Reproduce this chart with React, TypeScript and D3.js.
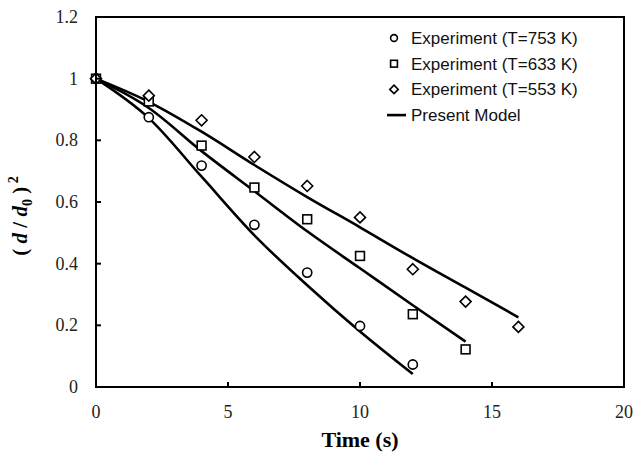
import * as d3 from 'd3'

// time axis (s)
const expTime753 = [0, 2, 4, 6, 8, 10, 12]
const exp753 = [1, 0.875, 0.718, 0.526, 0.371, 0.198, 0.073]
const expTime633 = [0, 2, 4, 6, 8, 10, 12, 14]
const exp633 = [1, 0.926, 0.783, 0.647, 0.544, 0.425, 0.236, 0.122]
const expTime553 = [0, 2, 4, 6, 8, 10, 12, 14, 16]
const exp553 = [1, 0.945, 0.865, 0.746, 0.652, 0.55, 0.382, 0.277, 0.195]

// present model curves
const model753 = [1, 0.872, 0.682, 0.492, 0.33, 0.18, 0.042]
const model633 = [1, 0.905, 0.765, 0.635, 0.505, 0.385, 0.265, 0.147]
const model553 = [1, 0.925, 0.828, 0.72, 0.616, 0.518, 0.418, 0.322, 0.226]

const xTicks = [0, 5, 10, 15, 20]
const yTicks = [0, 0.2, 0.4, 0.6, 0.8, 1, 1.2]
const legendLabels = [
  'Experiment (T=753 K)',
  'Experiment (T=633 K)',
  'Experiment (T=553 K)',
  'Present Model',
]

const W = 640
const H = 473
const margin = { top: 17, right: 16, bottom: 86, left: 96 }

type Pt = [number, number]
const zip = (xs: number[], ys: number[]): Pt[] => xs.map((x, i) => [x, ys[i]])

function Marker({ kind, x, y, s }: { kind: string; x: number; y: number; s: number }) {
  if (kind === 'circle') return <circle cx={x} cy={y} r={s} fill="#fff" stroke="#000" strokeWidth={1.6} />
  if (kind === 'square')
    return <rect x={x - s} y={y - s} width={2 * s} height={2 * s} fill="#fff" stroke="#000" strokeWidth={1.6} />
  const d = s * 1.25
  return (
    <path
      d={`M${x},${y - d}L${x + d},${y}L${x},${y + d}L${x - d},${y}Z`}
      fill="#fff"
      stroke="#000"
      strokeWidth={1.6}
    />
  )
}

export default function App() {
  const x = d3.scaleLinear().domain([0, 20]).range([margin.left, W - margin.right])
  const y = d3.scaleLinear().domain([0, 1.2]).range([H - margin.bottom, margin.top])

  const line = d3
    .line<Pt>()
    .x(d => x(d[0]))
    .y(d => y(d[1]))
    .curve(d3.curveMonotoneX)

  const models = [zip(expTime753, model753), zip(expTime633, model633), zip(expTime553, model553)]
  const exps = [
    { kind: 'circle', pts: zip(expTime753, exp753) },
    { kind: 'square', pts: zip(expTime633, exp633) },
    { kind: 'diamond', pts: zip(expTime553, exp553) },
  ]

  const x0 = x(0)
  const x1 = x(20)
  const y0 = y(0)
  const y1 = y(1.2)
  const serif = '"Liberation Serif", "Times New Roman", serif'
  const sans = '"Liberation Sans", Arial, sans-serif'

  return (
    <svg width={W} height={H} style={{ position: 'absolute', left: 0, top: 0, background: '#fff' }}>
      {/* model lines */}
      {models.map((m, i) => (
        <path key={i} d={line(m) ?? ''} fill="none" stroke="#000" strokeWidth={2.6} />
      ))}

      {/* experiment markers */}
      {exps.map(e =>
        e.pts.map((p, j) => <Marker key={e.kind + j} kind={e.kind} x={x(p[0])} y={y(p[1])} s={e.kind === 'circle' ? 4.6 : 4.4} />)
      )}

      {/* frame */}
      <rect x={x0} y={y1} width={x1 - x0} height={y0 - y1} fill="none" stroke="#000" strokeWidth={2} />

      {/* y ticks */}
      {yTicks.map(t => (
        <g key={t}>
          <line x1={x0} x2={x0 + 5} y1={y(t)} y2={y(t)} stroke="#000" strokeWidth={2} />
          <text x={x0 - 18} y={y(t) + 6} textAnchor="end" fontFamily={serif} fontSize={18} fill="#222">
            {t}
          </text>
        </g>
      ))}

      {/* x ticks */}
      {xTicks.map(t => (
        <g key={t}>
          <line x1={x(t)} x2={x(t)} y1={y0} y2={y0 - 5} stroke="#000" strokeWidth={2} />
          <text x={x(t)} y={y0 + 31} textAnchor="middle" fontFamily={serif} fontSize={18} fill="#222">
            {t}
          </text>
        </g>
      ))}

      {/* axis titles */}
      <text x={(x0 + x1) / 2} y={447} textAnchor="middle" fontFamily={serif} fontSize={22} fontWeight="bold">
        Time (s)
      </text>
      <text
        transform={`translate(27,${(y0 + y1) / 2 + 14}) rotate(-90)`}
        textAnchor="middle"
        fontFamily={serif}
        fontSize={21}
        fontWeight="bold"
      >
        {'( '}
        <tspan fontStyle="italic">d</tspan>
        {' / '}
        <tspan fontStyle="italic">d</tspan>
        <tspan fontSize={14} dy={5}>0</tspan>
        <tspan dy={-5}>{' )'}</tspan>
        <tspan fontSize={14} dy={-9}>{' 2'}</tspan>
      </text>

      {/* legend */}
      {legendLabels.map((lab, i) => {
        const cy = 38 + i * 25.7
        const kinds = ['circle', 'square', 'diamond']
        return (
          <g key={lab}>
            {i < 3 ? (
              <Marker kind={kinds[i]} x={394} y={cy} s={3.4} />
            ) : (
              <line x1={387} x2={406} y1={cy} y2={cy} stroke="#000" strokeWidth={2.6} />
            )}
            <text x={411} y={cy + 6} fontFamily={sans} fontSize={17} fill="#111">
              {lab}
            </text>
          </g>
        )
      })}
    </svg>
  )
}
